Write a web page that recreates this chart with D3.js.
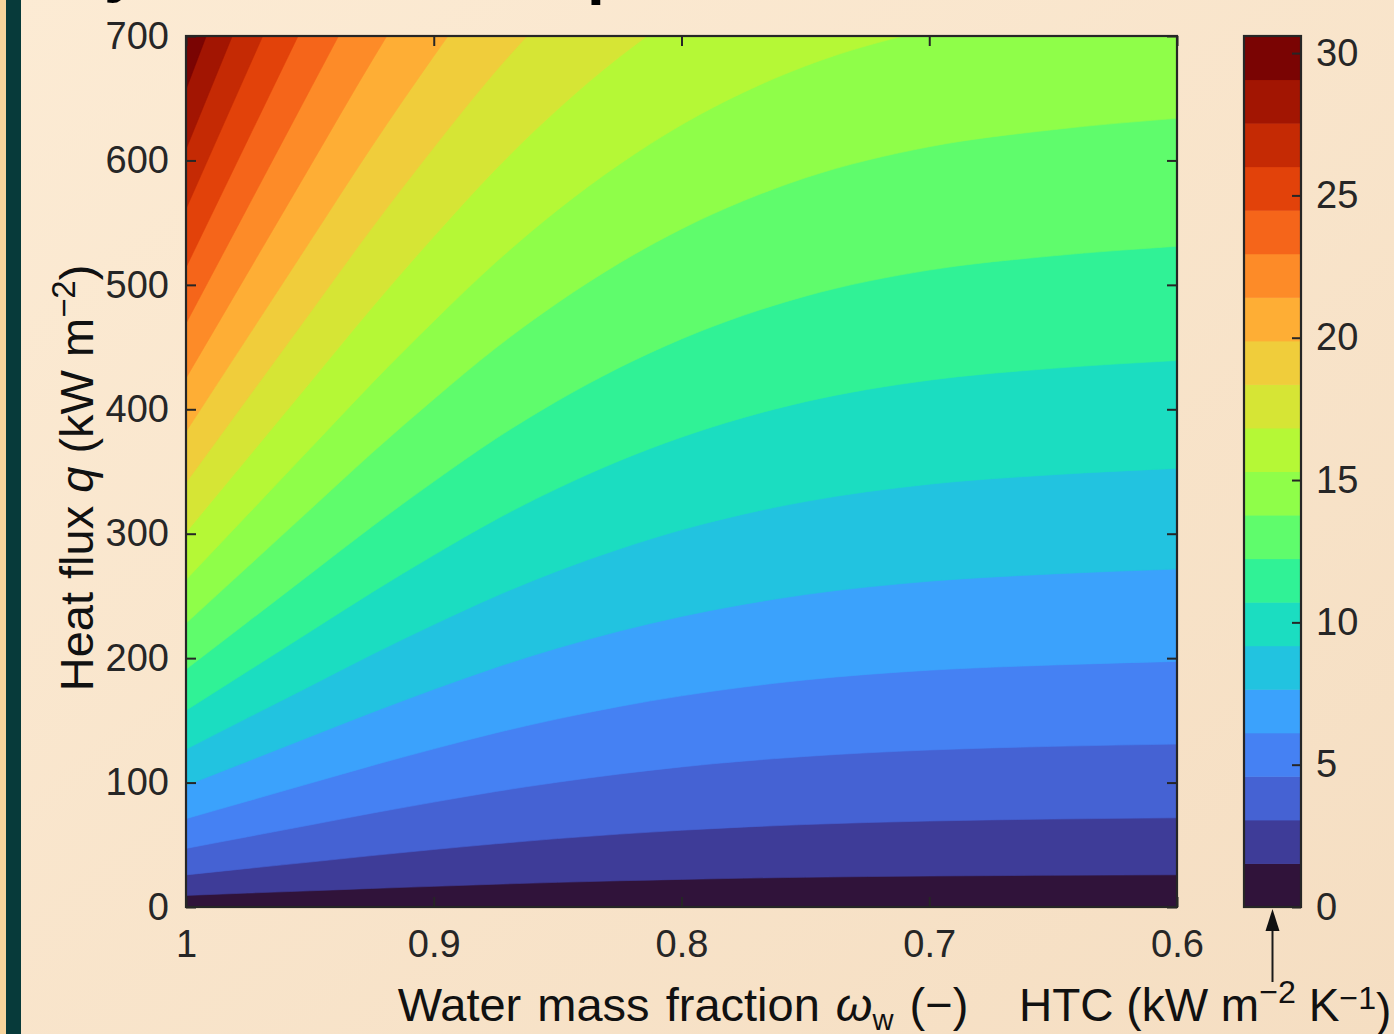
<!DOCTYPE html>
<html><head><meta charset="utf-8">
<script src="https://cdn.jsdelivr.net/npm/d3@7"></script>
<style>body{margin:0;overflow:hidden;background:#f9e6cd} svg{display:block}</style>
</head><body>
<script>
// ---------------- data ----------------
// water mass fraction columns at which each contour boundary was read
const omegaCols = [1, 0.975, 0.95, 0.925, 0.9, 0.875, 0.85, 0.825, 0.8, 0.75, 0.7, 0.65, 0.6];
// HTC values of the 19 interior contour boundaries (kW m^-2 K^-1)
const htcLevels = [1.53, 3.06, 4.59, 6.12, 7.65, 9.18, 10.71, 12.24, 13.77, 15.3,
                   16.83, 18.36, 19.89, 21.42, 22.95, 24.48, 26.01, 27.54, 29.07];
const htcMin = 0, htcMax = 30.6;
// heat flux q (kW m^-2) where each boundary crosses each omega column
const contourQ = [
  [9.3, 11.2, 13.0, 14.9, 16.6, 18.3, 19.8, 21.1, 22.2, 23.9, 24.9, 25.5, 25.9],
  [25.8, 31.0, 36.1, 41.3, 46.2, 50.8, 55.0, 58.6, 61.7, 66.3, 69.1, 70.7, 71.7],
  [47.1, 56.5, 65.9, 75.4, 84.3, 92.8, 100.3, 106.9, 112.6, 121.0, 126.2, 129.1, 130.9],
  [71.0, 85.2, 99.4, 113.6, 127.1, 139.9, 151.2, 161.2, 169.7, 182.5, 190.3, 194.5, 197.4],
  [97.7, 117.2, 136.8, 156.3, 174.9, 192.5, 208.1, 221.8, 233.5, 251.1, 261.8, 267.7, 271.6],
  [126.8, 152.2, 177.5, 202.9, 227.0, 249.8, 270.1, 287.8, 303.1, 325.9, 339.8, 347.4, 352.5],
  [158, 189.6, 221.2, 252.8, 282.8, 311.3, 336.5, 358.7, 377.6, 406.1, 423.4, 432.9, 439.2],
  [191, 229.2, 267.4, 305.6, 341.9, 376.3, 406.8, 433.6, 456.5, 490.9, 511.9, 523.3, 531.0],
  [228, 273.6, 319.2, 364.8, 408.1, 449.2, 485.6, 517.6, 544.9, 586.0, 611.0, 624.7, 633.8],
  [263, 315.6, 368.2, 420.8, 470.8, 518.1, 560.2, 597.0, 628.6, 675.9, 704.8, 720.6, 731.1],
  [301, 361.2, 421.4, 481.6, 538.8, 593.0, 641.1, 683.3, 719.4],
  [341, 409.2, 477.4, 545.6, 610.4, 671.8, 726.3],
  [382, 458.4, 534.8, 611.2, 683.8, 752.5],
  [425, 510.0, 595.0, 680.0, 760.8],
  [469, 562.8, 656.6, 750.4],
  [514, 616.8, 719.6],
  [561, 673.2, 785.4],
  [609, 730.8],
  [657, 788.4]
];
const xTicks = [1, 0.9, 0.8, 0.7, 0.6];
const yTicks = [0, 100, 200, 300, 400, 500, 600, 700];
const cbTicks = [0, 5, 10, 15, 20, 25, 30];
// band colours (lowest to highest)
const bandColors = ["#30133a","#3e3c98","#4562d3","#4581f3","#3ba2fc","#22c3e0","#1bddc1",
  "#30f296","#5ffc6c","#8ffe49","#b5f836","#d6e535","#f0cd3b","#feae35","#fd8b28",
  "#f5651a","#e2420a","#c52a04","#a21502","#7a0403"];

// ---------------- drawing ----------------
const W = 1394, H = 1034;
const L = 186, R = 1177, T = 36, B = 907;
const FONT = "'Liberation Sans', Arial, Helvetica, sans-serif";
const INK = "#262626";

const svg = d3.select("body").append("svg").attr("width", W).attr("height", H)
  .style("font-family", FONT);
const defs = svg.append("defs");
const grad = defs.append("linearGradient").attr("id", "bg")
  .attr("x1", "0").attr("y1", "0").attr("x2", "1").attr("y2", "1");
grad.append("stop").attr("offset", "0").attr("stop-color", "#fcebd4");
grad.append("stop").attr("offset", "1").attr("stop-color", "#f5dec2");
svg.append("rect").attr("width", W).attr("height", H).attr("fill", "url(#bg)");
svg.append("rect").attr("x", 0).attr("width", 6).attr("height", H).attr("fill", "#f7d49c");
svg.append("rect").attr("x", 6).attr("width", 15).attr("height", H).attr("fill", "#073a3a");

// cut-off title fragments at the very top
svg.append("text").attr("x", 104).attr("y", -10).attr("font-size", 64).attr("font-weight", "bold")
  .attr("fill", "#000").text("y");
svg.append("text").attr("x", 587).attr("y", -8).attr("font-size", 64).attr("font-weight", "bold")
  .attr("fill", "#000").text("p");

const x = d3.scaleLinear().domain([1, 0.6]).range([L, R]);
const y = d3.scaleLinear().domain([0, 700]).range([B, T]);

defs.append("clipPath").attr("id", "plotClip").append("rect")
  .attr("x", L).attr("y", T).attr("width", R - L).attr("height", B - T);

const plot = svg.append("g").attr("clip-path", "url(#plotClip)");
plot.append("rect").attr("x", L).attr("y", T).attr("width", R - L).attr("height", B - T)
  .attr("fill", bandColors[0]);
const line = d3.line().x(d => x(d[0])).y(d => y(d[1])).curve(d3.curveMonotoneX);
contourQ.forEach((row, i) => {
  const pts = row.map((q, j) => [omegaCols[j], q]);
  const last = pts[pts.length - 1];
  const d = line(pts) + `L${x(last[0])},${y(1200)}L${x(1) - 5},${y(1200)}L${x(1) - 5},${y(pts[0][1])}Z`;
  plot.append("path").attr("d", d).attr("fill", bandColors[i + 1])
    .attr("stroke", bandColors[i + 1]).attr("stroke-width", 0.6);
});

function styleAxis(g, size) {
  g.select(".domain").remove();
  g.selectAll(".tick line").attr("stroke", INK).attr("stroke-width", 2);
  g.selectAll(".tick text").attr("fill", INK).attr("font-size", size).attr("font-family", FONT);
}
const tickFont = 38;
svg.append("g").attr("transform", `translate(0,${B})`)
  .call(d3.axisBottom(x).tickValues(xTicks).tickSizeInner(-10).tickSizeOuter(0).tickPadding(23)
    .tickFormat(d3.format("")))
  .call(g => styleAxis(g, tickFont));
svg.append("g").attr("transform", `translate(0,${T})`)
  .call(d3.axisTop(x).tickValues(xTicks).tickSizeInner(-10).tickSizeOuter(0).tickFormat(""))
  .call(g => styleAxis(g, tickFont));
svg.append("g").attr("transform", `translate(${L},0)`)
  .call(d3.axisLeft(y).tickValues(yTicks).tickSizeInner(-10).tickSizeOuter(0).tickPadding(17))
  .call(g => styleAxis(g, tickFont));
svg.append("g").attr("transform", `translate(${R},0)`)
  .call(d3.axisRight(y).tickValues(yTicks).tickSizeInner(-10).tickSizeOuter(0).tickFormat(""))
  .call(g => styleAxis(g, tickFont));
svg.append("rect").attr("x", L).attr("y", T).attr("width", R - L).attr("height", B - T)
  .attr("fill", "none").attr("stroke", INK).attr("stroke-width", 2.2);

// colour bar
const cbL = 1244, cbR = 1301;
const cy = d3.scaleLinear().domain([htcMin, htcMax]).range([B, T]);
const edges = [htcMin, ...htcLevels, htcMax];
svg.append("g").selectAll("rect").data(bandColors).join("rect")
  .attr("x", cbL).attr("width", cbR - cbL)
  .attr("y", (c, i) => cy(edges[i + 1]))
  .attr("height", (c, i) => cy(edges[i]) - cy(edges[i + 1]) + 0.5)
  .attr("fill", c => c);
svg.append("g").attr("transform", `translate(${cbR},0)`)
  .call(d3.axisRight(cy).tickValues(cbTicks).tickSizeInner(-9).tickSizeOuter(0).tickPadding(15))
  .call(g => styleAxis(g, tickFont));
svg.append("rect").attr("x", cbL).attr("y", T).attr("width", cbR - cbL).attr("height", B - T)
  .attr("fill", "none").attr("stroke", INK).attr("stroke-width", 2.2);

// arrow under the colour bar
const ax = (cbL + cbR) / 2;
svg.append("line").attr("x1", ax).attr("x2", ax).attr("y1", 982).attr("y2", 926)
  .attr("stroke", "#1a1a1a").attr("stroke-width", 2);
svg.append("path").attr("d", `M${ax},${909}L${ax - 7},${931}L${ax + 7},${931}Z`).attr("fill", "#111");

// axis labels
const xl = svg.append("text").attr("x", 683).attr("y", 1021).attr("text-anchor", "middle")
  .attr("font-size", 47).attr("word-spacing", 3).attr("fill", "#111");
xl.append("tspan").text("Water mass fraction ");
xl.append("tspan").attr("font-style", "italic").text("ω");
xl.append("tspan").attr("font-size", "0.62em").attr("dy", "0.3em").text("w");
xl.append("tspan").attr("dy", "-0.19em").text(" (−)");

const hl = svg.append("text").attr("x", 1019).attr("y", 1021)
  .attr("font-size", 46).attr("fill", "#111");
hl.append("tspan").text("HTC (kW m");
hl.append("tspan").attr("font-size", "0.7em").attr("dy", "-0.55em").text("−2");
hl.append("tspan").attr("dy", "0.385em").text(" K");
hl.append("tspan").attr("font-size", "0.7em").attr("dy", "-0.385em").text("−1");
hl.append("tspan").attr("dy", "0.385em").text(")");

const yl = svg.append("text").attr("transform", "translate(93,478) rotate(-90)")
  .attr("text-anchor", "middle").attr("font-size", 47).attr("fill", "#111");
yl.append("tspan").text("Heat flux ");
yl.append("tspan").attr("font-style", "italic").text("q");
yl.append("tspan").text(" (kW m");
yl.append("tspan").attr("font-size", "0.7em").attr("dy", "-0.55em").text("−2");
yl.append("tspan").attr("dy", "0.385em").text(")");
</script>
</body></html>
